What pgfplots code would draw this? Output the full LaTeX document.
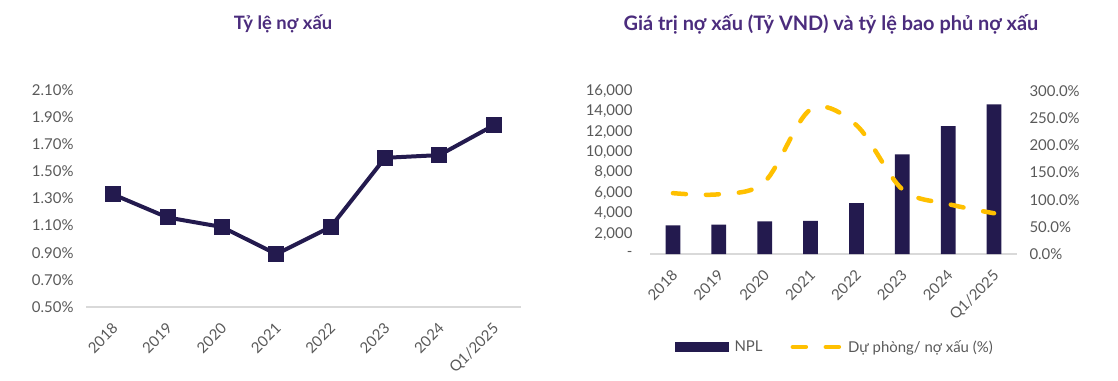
\documentclass[border=0pt]{standalone}
\usepackage{pgfplots}
\pgfplotsset{compat=1.18}
\usepackage{fontspec}
\setmainfont{Lato}
\definecolor{navy}{HTML}{231A4E}
\definecolor{titlec}{HTML}{4B2C7D}
\definecolor{tickc}{HTML}{595959}
\definecolor{gold}{HTML}{FFC000}
\definecolor{axc}{HTML}{D9D9D9}
\begin{document}
\begin{tikzpicture}[x=1bp,y=1bp]
\path (0,0) rectangle (1118,380);
\pgfplotsset{
  every axis/.append style={
    scale only axis,
    font=\fontsize{15}{17}\selectfont,
    tick label style={text=tickc},
    tick style={draw=none},
    major tick length=0pt,
    scaled y ticks=false,
    /pgf/number format/assume math mode=true,
    title style={text=titlec, anchor=center},
  },
}
% ---------- Left chart ----------
\begin{axis}[
  at={(86bp,73bp)}, anchor=south west,
  width=435bp, height=217bp,
  xmin=-0.5, xmax=7.5, ymin=0.5, ymax=2.1,
  axis x line*=bottom, axis y line*=left,
  x axis line style={-, draw=axc, line width=1.5bp},
  y axis line style={draw=none},
  xtick={0,...,7},
  xticklabels={2018,2019,2020,2021,2022,2023,2024,Q1/2025},
  xticklabel style={xshift=-2bp, yshift=-10bp, rotate=45, anchor=north east},
  ytick={0.5,0.7,0.9,1.1,1.3,1.5,1.7,1.9,2.1},
  yticklabels={0.50\%,0.70\%,0.90\%,1.10\%,1.30\%,1.50\%,1.70\%,1.90\%,2.10\%},
  yticklabel style={xshift=-9bp},
  title={Tỷ lệ nợ xấu},
  title style={at={(0.453,1.276)}, font=\fontsize{18.5}{21}\selectfont\bfseries},
]
\addplot[navy, line width=4bp, mark=square*, mark size=6bp, mark options={solid}] coordinates {
  (0,1.33) (1,1.16) (2,1.09) (3,0.89) (4,1.09) (5,1.60) (6,1.62) (7,1.84)
};
\end{axis}
% ---------- Right chart: bars ----------
\begin{axis}[
  at={(650bp,126bp)}, anchor=south west,
  width=367bp, height=163bp,
  xmin=-0.5, xmax=7.5, ymin=0, ymax=16000,
  axis x line*=bottom, axis y line*=left,
  x axis line style={-, draw=axc, line width=1.5bp},
  y axis line style={draw=none},
  xtick={0,...,7},
  xticklabels={2018,2019,2020,2021,2022,2023,2024,Q1/2025},
  xticklabel style={xshift=-2bp, yshift=-10bp, rotate=45, anchor=north east},
  ytick={0,2000,4000,6000,8000,10000,12000,14000,16000},
  yticklabels={-,{2,000},{4,000},{6,000},{8,000},{10,000},{12,000},{14,000},{16,000}},
  yticklabel style={xshift=-14bp},
  title={Giá trị nợ xấu (Tỷ VND) và tỷ lệ bao phủ nợ xấu},
  title style={at={(0.493,1.374)}, font=\fontsize{20}{23}\selectfont\bfseries},
]
\addplot[ybar, bar width=14.7bp, fill=navy, draw=none] coordinates {
  (0,2820) (1,2880) (2,3210) (3,3240) (4,5000) (5,9780) (6,12560) (7,14690)
};
\end{axis}
% ---------- Right chart: coverage line ----------
\begin{axis}[
  at={(650bp,126bp)}, anchor=south west,
  width=367bp, height=163bp,
  xmin=-0.5, xmax=7.5, ymin=0, ymax=300,
  axis x line=none, axis y line*=right,
  y axis line style={draw=none},
  ytick={0,50,100,150,200,250,300},
  yticklabels={0.0\%,50.0\%,100.0\%,150.0\%,200.0\%,250.0\%,300.0\%},
  yticklabel style={xshift=9bp},
  legend style={at={(0.504,-0.57)}, anchor=center, draw=none, fill=none,
    font=\fontsize{15}{17}\selectfont, text=tickc,
    legend columns=2,
    /tikz/every even column/.append style={column sep=26bp},
    /tikz/every odd column/.append style={column sep=4bp},
    nodes={inner sep=2bp}},
]
\addlegendimage{legend image code/.code={\fill[navy] (0bp,-4.5bp) rectangle (53bp,4.5bp);}}
\addlegendentry{NPL}
\addplot[gold, line width=4.5bp, smooth, tension=0.55, line cap=round,
  dash pattern=on 13bp off 20bp,
  legend image code/.code={\draw[gold, line width=4.5bp, line cap=round, dash pattern=on 13bp off 20bp] (2bp,0bp) -- (49bp,0bp);}] coordinates {
  (0,112) (1,110) (2,133) (3,266) (4,237) (5,119) (6,92) (7,75)
};
\addlegendentry{Dự phòng/ nợ xấu (\%)}
\end{axis}
\end{tikzpicture}
\end{document}
